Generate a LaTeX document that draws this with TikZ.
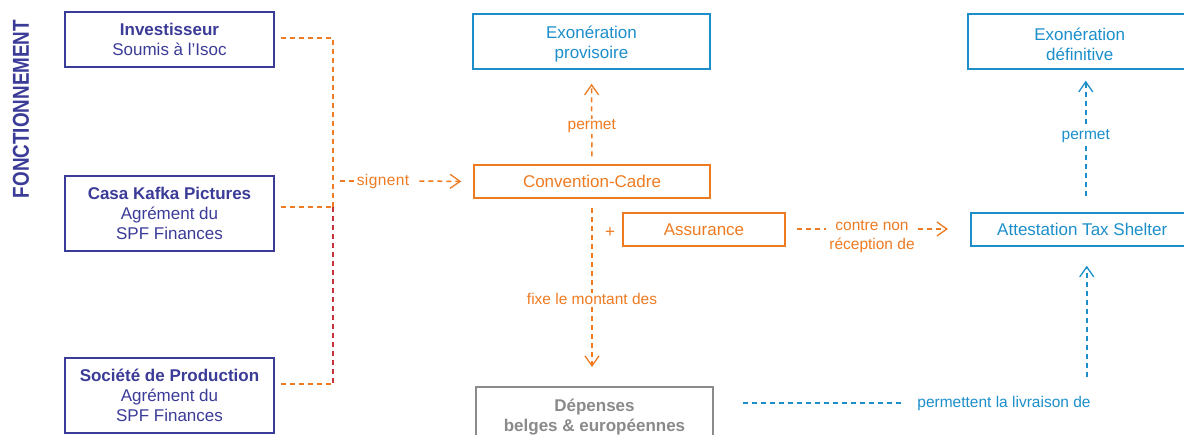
\documentclass[tikz,border=0pt]{standalone}
\usepackage{fontspec}
\setmainfont{Liberation Sans}
\usetikzlibrary{arrows.meta}
\definecolor{navy}{HTML}{3B3B98}
\definecolor{orng}{HTML}{EE7B22}
\definecolor{skyb}{HTML}{1C8FCB}
\definecolor{grey}{HTML}{8A8A8A}
\definecolor{redl}{HTML}{C8323A}
\tikzset{
  box/.style={draw, rectangle, line width=1.5pt, align=center, inner sep=0pt,
    font=\fontsize{17}{20}\selectfont},
  navybox/.style={box, draw=navy, text=navy, minimum width=209pt},
  orbox/.style={box, draw=orng, text=orng, minimum height=33pt},
  blbox/.style={box, draw=skyb, text=skyb},
  lbl/.style={font=\fontsize{15.5}{19}\selectfont, inner sep=1pt, fill=white},
  dl/.style={line width=1.5pt, dash pattern=on 5pt off 4pt},
  arr/.style={-{Straight Barb[length=10pt,width=14pt,line width=1.3pt]}},
}
\begin{document}
\begin{tikzpicture}[x=1pt,y=-1pt]
\clip (0,0) rectangle (1184,434);
\fill[white] (0,0) rectangle (1184,434);

% side title
\node[rotate=90, text=navy, inner sep=0pt] (title) at (21,109)
  {\scalebox{0.82}[1]{\fontsize{23}{23}\selectfont\bfseries FONCTIONNEMENT}};

% left boxes
\node[navybox, minimum height=55pt] (inv) at (169.5,39.5)
  {\textbf{Investisseur}\\Soumis à l’Isoc};
\node[navybox, minimum height=75pt] (casa) at (169.5,213.5)
  {\textbf{Casa Kafka Pictures}\\Agrément du\\SPF Finances};
\node[navybox, minimum height=75pt] (soc) at (169.5,395.5)
  {\textbf{Société de Production}\\Agrément du\\SPF Finances};

% middle boxes
\node[blbox, minimum width=237pt, minimum height=55pt] (exo) at (591.5,41.5)
  {\rule{0pt}{18pt}Exonération\\provisoire};
\node[orbox, minimum width=236pt] (conv) at (592,181.5) {Convention-Cadre};
\node[orbox, minimum width=162pt] (ass) at (704,229.5) {Assurance};
\node[text=orng, font=\fontsize{17}{20}\selectfont, inner sep=0pt] (plus) at (610,232.5) {+};
\node[box, draw=grey, text=grey, minimum width=237pt, minimum height=70pt, anchor=north] (dep) at (594.5,386)
  {};
\node[text=grey, font=\fontsize{17}{20}\selectfont\bfseries, align=center, inner sep=0pt, anchor=north] (deptxt) at (594.5,398.5)
  {Dépenses\\belges \& européennes};

% right boxes
\node[blbox, minimum width=233pt, minimum height=55pt, anchor=west] (exd) at (967,41.5)
  {\rule{0pt}{18pt}\hspace*{-9pt}Exonération\\\hspace*{-9pt}définitive};
\node[blbox, minimum width=230pt, minimum height=33pt, anchor=west] (att) at (970,229.5)
  {\hspace*{-7pt}Attestation Tax Shelter};

% bracket
\coordinate (bj) at (333,207);
\coordinate (bb) at (333,384);
\draw[orng, dl] ([xshift=6pt,yshift=1.5pt]inv.east) -| (bj);
\draw[orng, dl] ([xshift=6pt,yshift=6.5pt]casa.east) -- (bj);
\draw[redl, dl] (bj) -- (bb);
\draw[orng, dl] ([xshift=6pt,yshift=11.5pt]soc.east) -- (bb);

% signent
\node[lbl, text=orng] (sig) at (383,181) {s\kern0.4pt i\kern0.4pt g\kern0.4pt n\kern0.4pt e\kern0.4pt n\kern0.4pt t};
\draw[orng, dl] (340,181) -- (sig.west);
\draw[orng, dl, arr, shorten <=9pt, shorten >=12pt] (sig.east) -- (conv.west);

% permet (left)
\draw[orng, dl, arr, shorten <=8pt, shorten >=14pt] (conv.north) -- (exo.south)
  node[lbl, text=orng, pos=0.4] (perm1) {permet};

% fixe le montant des
\draw[orng, dl, arr, shorten <=9pt, shorten >=19pt] (conv.south) -- (conv.south |- dep.north)
  node[lbl, text=orng, pos=0.537] (fixe) {fixe le montant des};

% contre non reception
\node[lbl, text=orng, align=center, inner xsep=3pt] (contre) at (872,237) {contre non\\réception de};
\draw[orng, dl] ([xshift=11pt,yshift=0.5pt]ass.east) -- ([yshift=0.5pt]contre.west |- ass.east);
\draw[orng, dl, arr, shorten >=22pt] ([yshift=0.5pt]contre.east |- att.west) -- ([yshift=0.5pt]att.west);

% permettent la livraison de
\node[lbl, text=skyb] (livr) at (1004,403) {permettent la livraison de};
\draw[skyb, dl, shorten <=29pt, shorten >=12pt] ([yshift=-17pt]dep.north east) -- (livr.west);
\draw[skyb, dl, arr, shorten <=18pt, shorten >=19pt] (livr.north -| att.south) ++(1,0) -- ([xshift=1pt]att.south);

% permet (right)
\draw[skyb, dl, arr, shorten <=16pt, shorten >=11pt] (att.north) -- (att.north |- exd.south)
  node[lbl, text=skyb, pos=0.535] (perm2) {permet};
\end{tikzpicture}
\end{document}
